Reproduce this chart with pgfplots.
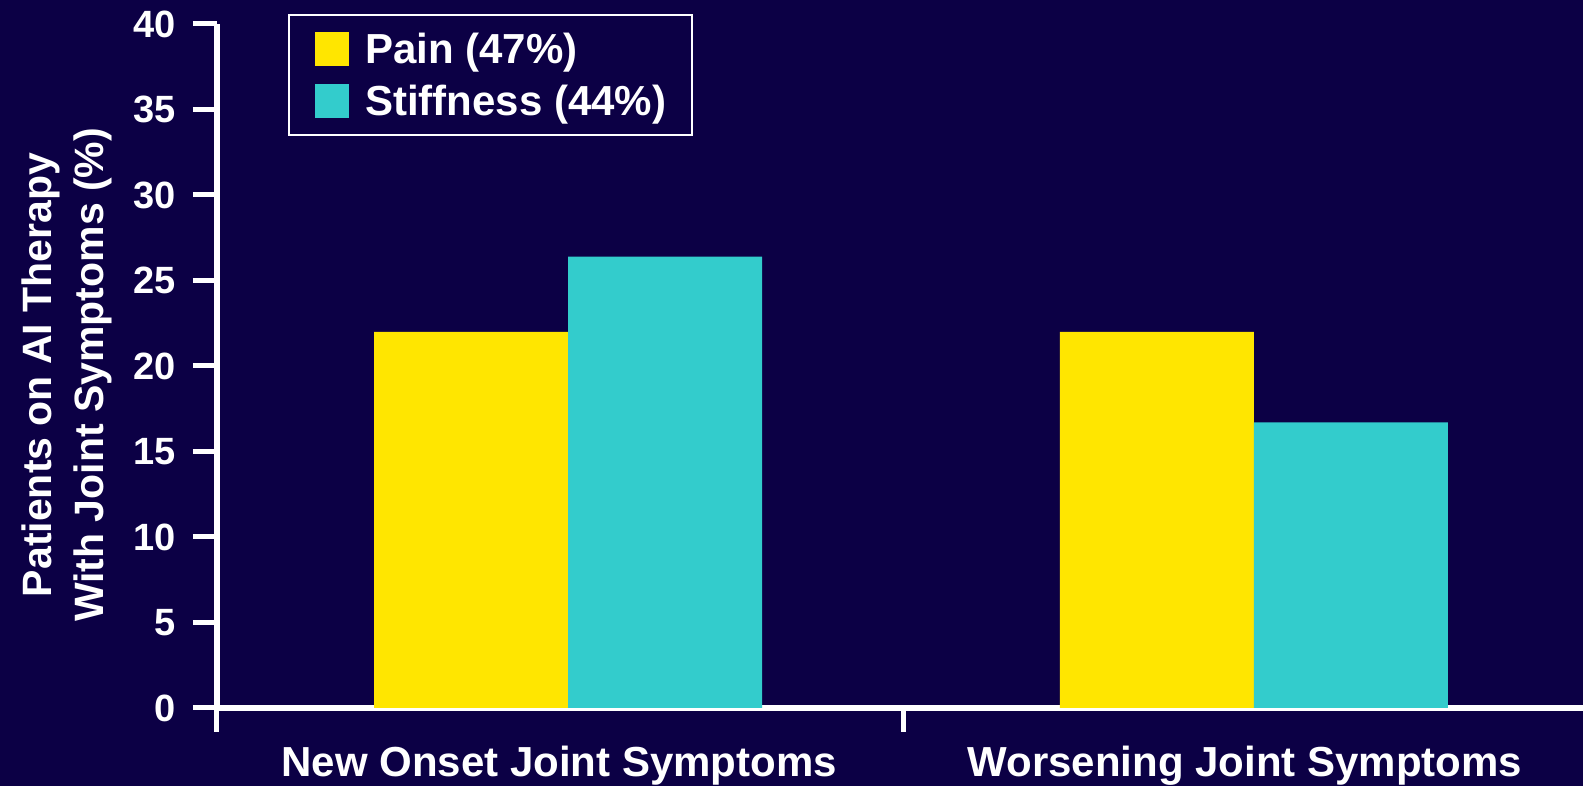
\documentclass[border=0pt]{standalone}
\usepackage{pgfplots}
\pgfplotsset{compat=1.18}
\usepackage{fontspec}
\setmainfont{Liberation Sans}

\definecolor{bgnavy}{HTML}{0C0045}
\definecolor{painyellow}{HTML}{FFE600}
\definecolor{stiffcyan}{HTML}{33CCCC}

\begin{document}
\begin{tikzpicture}
\useasboundingbox (-217pt,-78pt) rectangle (1366pt,708pt);
\fill[bgnavy] (-217pt,-78pt) rectangle (1366pt,708pt);
\begin{axis}[
	scale only axis,
	width=1366pt, height=684pt,
	xmin=-0.512, xmax=1.480,
	ymin=0, ymax=40,
	axis lines=left,
	axis line style={white, line width=5.5pt, -},
	ybar=0pt, bar width=0.283,
	legend image code/.code={\fill[#1] (0pt,-17pt) rectangle (34pt,17pt);},
	ytick={0,5,...,40},
	xtick={-0.512,0.489}, xticklabels={},
	extra x ticks={0,1},
	extra x tick labels={New Onset Joint Symptoms, Worsening Joint Symptoms},
	extra x tick style={major tick style={draw=none}},
	tick align=outside, major tick length=24pt,
	tick style={white, line width=5pt},
	/pgf/number format/assume math mode=true,
	yticklabel style={font=\fontsize{38}{46}\selectfont\bfseries, text=white, xshift=-14pt},
	xticklabel style={font=\fontsize{42}{50}\selectfont\bfseries, text=white, anchor=north,
		xshift=-9pt, yshift=-11pt},
	ylabel={Patients on AI Therapy\\With Joint Symptoms (\%)},
	ylabel style={at={(axis description cs:-0.1098,0.487)}, anchor=center, align=center,
		font=\fontsize{41}{52}\selectfont\bfseries, text=white},
	legend style={at={(axis description cs:0.052,1.015)}, anchor=north west,
		draw=white, line width=2pt, fill=bgnavy, text=white,
		font=\fontsize{42}{50}\selectfont\bfseries,
		inner xsep=26pt, inner ysep=17pt, row sep=18pt, column sep=16pt,
		nodes={inner sep=0pt}},
	legend cell align=left,
]
\addplot[fill=painyellow, draw=none] coordinates {(0,22) (1,22)};
\addplot[fill=stiffcyan, draw=none] coordinates {(0,26.4) (1,16.7)};
\legend{Pain (47\%), Stiffness (44\%)}
\end{axis}
\end{tikzpicture}
\end{document}
